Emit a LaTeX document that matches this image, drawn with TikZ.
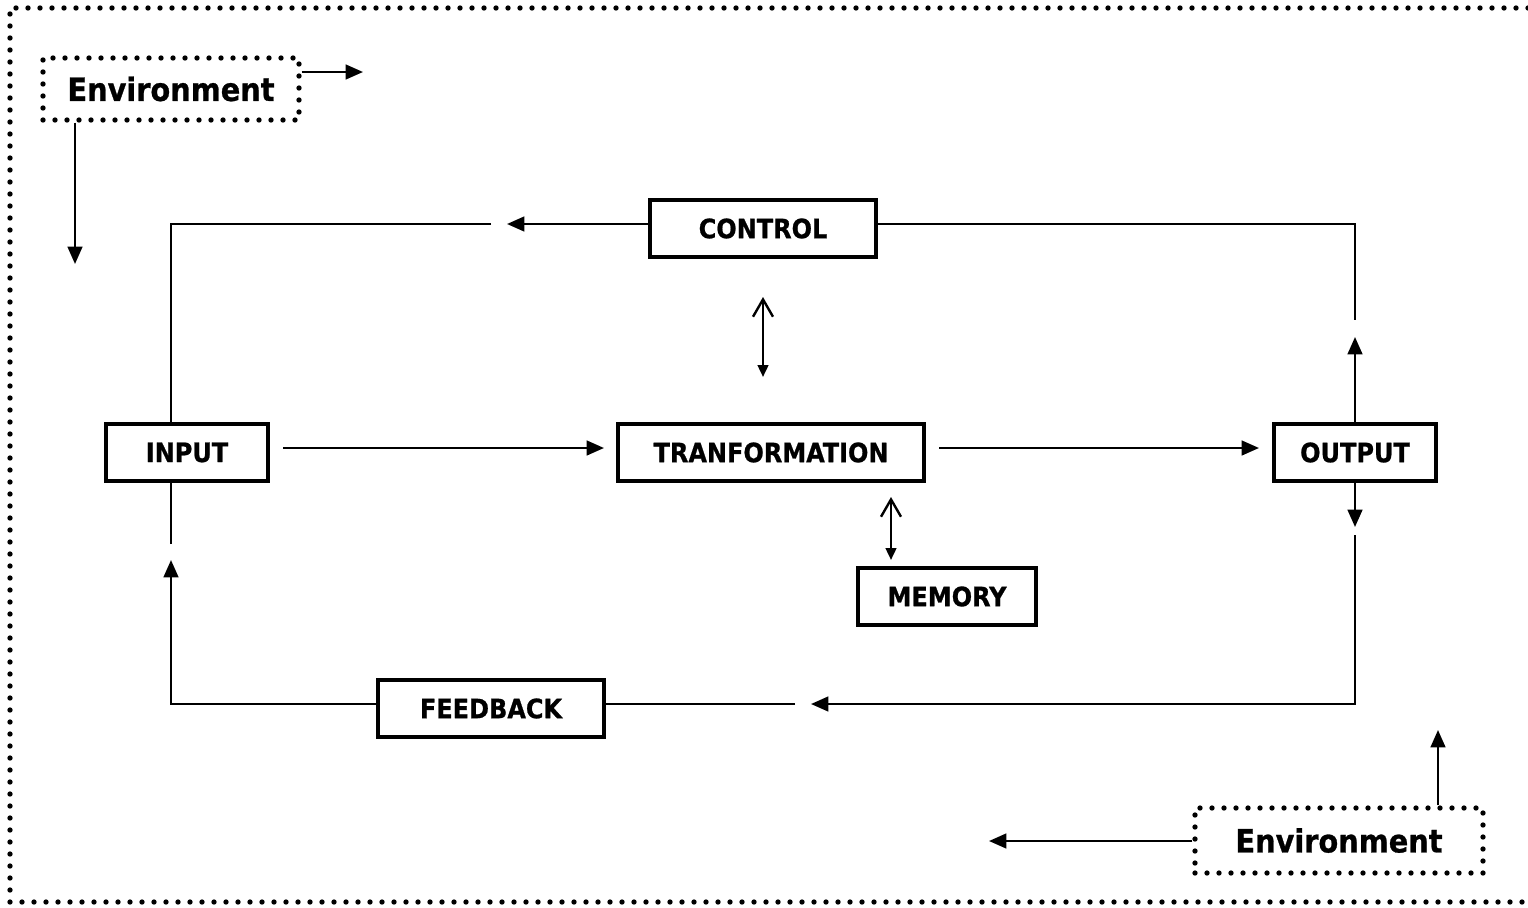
\documentclass[tikz,border=0pt]{standalone}
\usepackage{fontspec}
\newfontfamily\lab{DejaVu Sans Condensed}[BoldFeatures={FakeBold=0.8}]
\usetikzlibrary{arrows.meta}

\tikzset{
  box/.style={draw, line width=2.4pt, inner sep=0pt, minimum height=42.75pt,
    font=\lab\bfseries\fontsize{20}{24}\selectfont},
  dotline/.style={line width=4pt, dash pattern=on 0pt off 9pt, line cap=round},
  envbox/.style={draw, dotline, inner sep=0pt,
    font=\lab\bfseries\fontsize{24}{28}\selectfont},
  conn/.style={line width=1.8pt},
  tip/.style={conn, -{Triangle[length=13pt,width=11pt]}},
  twoway/.style={conn, {Straight Barb[length=13pt,width=15pt,line width=1.8pt]}-{Triangle[length=9pt,width=8pt]}},
}

\begin{document}
\begin{tikzpicture}[x=0.75pt, y=-0.75pt]
\useasboundingbox (0,0) rectangle (1528,907);

% outer dotted frame (open on the right)
\draw[dotline] (1540,8) -- (10,8) -- (10,902) -- (1540,902);

% blocks
\node[box, minimum width=169.5pt] (ctrl) at (763,228.5) {CONTROL};
\node[box, minimum width=121.5pt] (inp)  at (187,452.5) {INPUT};
\node[box, minimum width=229.5pt] (trf)  at (771,452.5) {TRANFORMATION};
\node[box, minimum width=121.5pt] (out)  at (1355,452.5) {OUTPUT};
\node[box, minimum width=133.5pt] (mem)  at (947,596.5) {MEMORY};
\node[box, minimum width=169.5pt] (fb)   at (491,708.5) {FEEDBACK};

\node[envbox, minimum width=192pt, minimum height=46.5pt] (env1) at (171,89) {Environment};
\node[envbox, minimum width=216pt, minimum height=48.75pt] (env2) at (1339,840.5) {Environment};

% free ends and corners
\coordinate (ca) at (507,224);
\coordinate (cb) at (491,224);
\coordinate (cc) at (171,224);
\coordinate (cd) at (1355,224);
\coordinate (ce) at (1355,320);
\coordinate (ie) at (283,448);
\coordinate (tw) at (604,448);
\coordinate (te) at (939,448);
\coordinate (ow) at (1259,448);
\coordinate (oa) at (1355,337);
\coordinate (ob) at (1355,527);
\coordinate (oc) at (1355,535);
\coordinate (od) at (1355,704);
\coordinate (fa) at (811,704);
\coordinate (fb2) at (795,704);
\coordinate (fc) at (171,704);
\coordinate (ia) at (171,560);
\coordinate (ib) at (171,544);
\coordinate (e1a) at (363,72);
\coordinate (e1b) at (75,264);
\coordinate (e2a) at (989,841);
\coordinate (e2b) at (1438,730);
\coordinate (ta) at (763,297);
\coordinate (tb) at (763,377);
\coordinate (ma) at (891,497);
\coordinate (mb) at (891,560);

% control loop
\draw[tip] (ctrl.west |- cb) -- (ca);
\draw[conn] (cb) -- (cc) -- (inp.north -| cc);
\draw[conn] (ctrl.east |- cd) -- (cd) -- (ce);

% main flow
\draw[tip] (ie) -- (tw);
\draw[tip] (te) -- (ow);

% output branches
\draw[tip] (out.north) -- (oa);
\draw[tip] (out.south) -- (ob);
\draw[tip] (oc) -- (od) -- (fa);

% feedback loop
\draw[conn] (fb2) -- (fb.east |- fb2);
\draw[tip] (fb.west |- fc) -- (fc) -- (ia);
\draw[conn] (ib) -- (inp.south -| ib);

% two-way links
\draw[twoway] (ta) -- (tb);
\draw[twoway] (ma) -- (mb);

% environment arrows
\draw[tip] (env1.east |- e1a) -- (e1a);
\draw[tip] (env1.south -| e1b) -- (e1b);
\draw[tip] (env2.west |- e2a) -- (e2a);
\draw[tip] (env2.north -| e2b) -- (e2b);
\end{tikzpicture}
\end{document}
